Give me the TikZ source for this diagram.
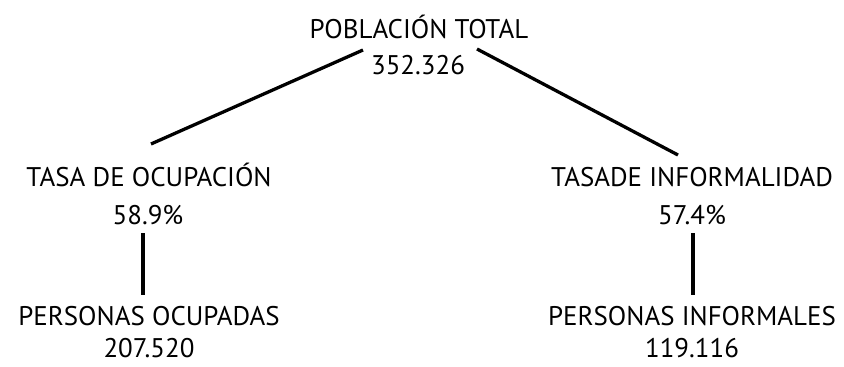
\documentclass[tikz,border=0pt]{standalone}
\usepackage{fontspec}
\setmainfont{PT Sans}
\usetikzlibrary{positioning}

\begin{document}
\begin{tikzpicture}[
    x=0.03cm, y=-0.03cm,
    label/.style={anchor=base, font=\fontsize{23}{28}\selectfont, inner sep=0pt},
    link/.style={line width=2.8pt}
]
    \useasboundingbox (0,0) rectangle (844,367);

    % Top
    \node[label] (total) at (419,39) {POBLACIÓN TOTAL};
    \node[label] (totalv) at (418,74.5) {352.326};

    % Middle level
    \node[label] (ocup) at (149,186) {TASA DE OCUPACIÓN};
    \node[label] (ocupv) at (148,224) {58.9\%};
    \node[label] (tinf) at (692,186) {TASADE INFORMALIDAD};
    \node[label] (tinfv) at (692,224) {57.4\%};

    % Bottom level
    \node[label] (pocup) at (149,325) {PERSONAS OCUPADAS};
    \node[label] (pocupv) at (149,357) {207.520};
    \node[label] (pinf) at (692,325) {PERSONAS INFORMALES};
    \node[label] (pinfv) at (692,357) {119.116};

    % Connector ends
    \coordinate (tl) at (363,50);
    \coordinate (tr) at (477,49);
    \coordinate (ol) at (151,144);
    \coordinate (ir) at (678,155);
    \coordinate (oa) at (143,233);
    \coordinate (ob) at (143,295);
    \coordinate (ia) at (693,233);
    \coordinate (ib) at (693,295);

    % Connections
    \draw[link] (tl) -- (ol);
    \draw[link] (tr) -- (ir);
    \draw[link] (oa) -- (ob);
    \draw[link] (ia) -- (ib);
\end{tikzpicture}
\end{document}
